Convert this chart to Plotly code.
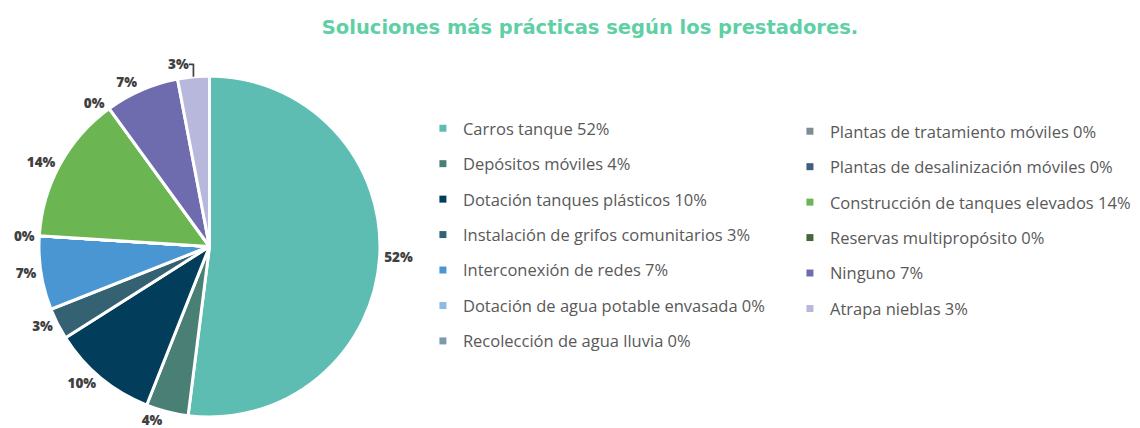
import plotly.graph_objects as go

title = "Soluciones más prácticas según los prestadores."
categories = [
    "Carros tanque", "Depósitos móviles", "Dotación tanques plásticos",
    "Instalación de grifos comunitarios", "Interconexión de redes",
    "Dotación de agua potable envasada", "Recolección de agua lluvia",
    "Plantas de tratamiento móviles", "Plantas de desalinización móviles",
    "Construcción de tanques elevados", "Reservas multipropósito",
    "Ninguno", "Atrapa nieblas",
]
values = [52, 4, 10, 3, 7, 0, 0, 0, 0, 14, 0, 7, 3]
# slice labels shown on the chart (overlapping zero slices show a single label)
slice_labels = ["52%", "4%", "10%", "3%", "7%", "0%", "", "", "", "14%", "0%", "7%", "3%"]
colors = [
    "#5EBDB2", "#4A7F76", "#023D5C", "#356272", "#4A96D3",
    "#8DBCE0", "#7F9AAB", "#7E8C94", "#3F5F7A",
    "#6BB652", "#44683A", "#6F6BAF", "#B8B8DD",
]
col1_count = 7

W, H = 1140, 428
fig = go.Figure()
fig.add_trace(go.Pie(
    labels=categories, values=values, text=slice_labels, sort=False,
    direction="clockwise", rotation=0,
    marker=dict(colors=colors, line=dict(color="white", width=3)),
    texttemplate="%{text}", textposition="outside",
    textfont=dict(family="Open Sans", size=13.5, color="#404040", weight=800),
    showlegend=False, hoverinfo="label+value",
    domain=dict(x=[28 / W, 370 / W], y=[19 / H, 360 / H]),
))

for i, (c, v, col) in enumerate(zip(categories, values, colors)):
    fig.add_trace(go.Scatter(
        x=[None], y=[None], mode="markers", name=f"{c} {v}%",
        marker=dict(symbol="square", size=7, color=col),
        legend="legend" if i < col1_count else "legend2",
        legendgroup=f"g{i}", showlegend=True,
    ))

legend_common = dict(
    font=dict(family="Open Sans", size=16.5, color="#595959"),
    bgcolor="rgba(0,0,0,0)", tracegroupgap=11, itemwidth=30,
    xanchor="left", yanchor="top",
)
fig.update_layout(
    width=W, height=H,
    margin=dict(l=0, r=0, t=0, b=0),
    paper_bgcolor="white", plot_bgcolor="white",
    title=dict(text=f"<b>{title}</b>", x=582 / W, xanchor="center",
               y=1 - 19 / H, yanchor="middle",
               font=dict(family="DejaVu Sans", size=19.5, color="#5FCFA5")),
    xaxis=dict(visible=False), yaxis=dict(visible=False),
    legend=dict(x=413 / W, y=1 - 103 / H, **legend_common),
    legend2=dict(x=781 / W, y=1 - 106 / H, **legend_common),
)
fig.write_html("out.html")
